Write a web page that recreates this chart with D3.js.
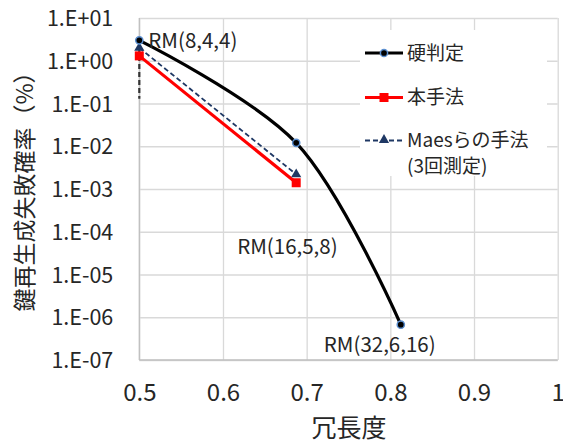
<!DOCTYPE html>
<html>
<head>
<meta charset="utf-8">
<script src="https://cdn.jsdelivr.net/npm/d3@7/dist/d3.min.js"></script>
<style>
  html, body { margin: 0; padding: 0; background: #fff; }
  svg { display: block; font-family: "Noto Sans CJK JP", "Noto Sans", sans-serif; }
</style>
</head>
<body>
<svg id="chart" width="563" height="440"></svg>
<script>
// Redundancy (code rate) of each Reed-Muller code
const redundancy = [0.5, 0.6875, 0.8125];
const codeNames = ["RM(8,4,4)", "RM(16,5,8)", "RM(32,6,16)"];

// Key regeneration failure probability (%)
const hardDecision = [3.0, 1.2e-2, 6.7e-7];     // 硬判定
const proposed = [1.3, 1.4e-3];                 // 本手法
const maes = [2.0, 2.2e-3];                     // Maesらの手法 (3回測定)
const maesLow = [0.13, null];                   // lower error bar of Maes

const xTicks = [0.5, 0.6, 0.7, 0.8, 0.9, 1.0];
const yTicks = [1e1, 1e0, 1e-1, 1e-2, 1e-3, 1e-4, 1e-5, 1e-6, 1e-7];

const svg = d3.select("#chart");
const textColor = "#262626";

const x = d3.scaleLinear().domain([0.5, 1.0]).range([139.3, 557.7]);
const y = d3.scaleLog().domain([1e-7, 1e1]).range([360, 18]);

// gridlines
const grid = svg.append("g");
grid.append("g")
  .attr("transform", `translate(0,${y.range()[0]})`)
  .call(d3.axisBottom(x).tickValues(xTicks).tickSize(-(y.range()[0] - y.range()[1])).tickFormat(""))
  .call(g => g.select(".domain").remove())
  .call(g => g.selectAll("line").attr("stroke", "#d9d9d9").attr("stroke-width", 1.3));
grid.append("g")
  .attr("transform", `translate(${x.range()[0]},0)`)
  .call(d3.axisLeft(y).tickValues(yTicks).tickSize(-(x.range()[1] - x.range()[0])).tickFormat(""))
  .call(g => g.select(".domain").remove())
  .call(g => g.selectAll("line").attr("stroke", "#d9d9d9").attr("stroke-width", 1.3));

// axis lines
svg.append("line")
  .attr("x1", x.range()[0]).attr("x2", x.range()[1])
  .attr("y1", y.range()[0]).attr("y2", y.range()[0])
  .attr("stroke", "#bfbfbf").attr("stroke-width", 1.3);
svg.append("line")
  .attr("x1", x.range()[0]).attr("x2", x.range()[0])
  .attr("y1", y.range()[0]).attr("y2", y.range()[1])
  .attr("stroke", "#bfbfbf").attr("stroke-width", 1.3);

// tick labels
const fmtExp = d => {
  const e = Math.round(Math.log10(d));
  return "1.E" + (e < 0 ? "-" : "+") + String(Math.abs(e)).padStart(2, "0");
};
svg.append("g")
  .attr("transform", `translate(${x.range()[0]},0)`)
  .call(d3.axisLeft(y).tickValues(yTicks).tickSize(0).tickPadding(26).tickFormat(fmtExp))
  .call(g => g.select(".domain").remove())
  .call(g => g.selectAll("text")
    .attr("font-family", "'Noto Sans CJK JP', sans-serif")
    .attr("font-size", 21.5).attr("fill", textColor).attr("dy", "0.35em"));

svg.append("g")
  .attr("transform", `translate(0,${y.range()[0]})`)
  .call(d3.axisBottom(x).tickValues(xTicks).tickSize(0).tickFormat(d => d === 1 ? "1" : d.toFixed(1)))
  .call(g => g.select(".domain").remove())
  .call(g => g.selectAll("text")
    .attr("font-family", "'Noto Sans CJK JP', sans-serif")
    .attr("font-size", 24).attr("fill", textColor)
    .attr("y", 33).attr("dy", "0.35em"));

// axis titles
svg.append("text")
  .attr("x", 349).attr("y", 428).attr("dy", "0.35em")
  .attr("text-anchor", "middle")
  .attr("font-size", 25).attr("fill", textColor)
  .text("冗長度");
svg.append("text")
  .attr("transform", "translate(25,186) rotate(-90)")
  .attr("dy", "0.35em")
  .attr("text-anchor", "middle")
  .attr("font-size", 23).attr("fill", textColor)
  .text("鍵再生成失敗確率（%）");

// Maes error bar
const errG = svg.append("g");
maes.forEach((v, i) => {
  if (maesLow[i] == null) return;
  errG.append("line")
    .attr("x1", x(redundancy[i])).attr("x2", x(redundancy[i]))
    .attr("y1", y(v)).attr("y2", y(maesLow[i]))
    .attr("stroke", "#333").attr("stroke-width", 2.2)
    .attr("stroke-dasharray", "5,3");
});

// series lines
const navy = "#1f3864";
const pts = vals => vals.map((v, i) => [redundancy[i], v]);
svg.append("path")
  .datum(pts(maes))
  .attr("d", d3.line().x(d => x(d[0])).y(d => y(d[1])))
  .attr("fill", "none").attr("stroke", navy).attr("stroke-width", 1.8)
  .attr("stroke-dasharray", "5,3");
svg.append("path")
  .datum(pts(proposed))
  .attr("d", d3.line().x(d => x(d[0])).y(d => y(d[1])))
  .attr("fill", "none").attr("stroke", "#ff0000").attr("stroke-width", 3.2);
svg.append("path")
  .datum(pts(hardDecision))
  .attr("d", d3.line().x(d => x(d[0])).y(d => y(d[1])).curve(d3.curveCatmullRom.alpha(0.5)))
  .attr("fill", "none").attr("stroke", "#000").attr("stroke-width", 3.2);

// markers
const tri = d3.symbol().type(d3.symbolTriangle).size(45);
svg.append("g").selectAll("path")
  .data(pts(maes)).join("path")
  .attr("transform", d => `translate(${x(d[0])},${y(d[1])})`)
  .attr("d", tri).attr("fill", navy);
svg.append("g").selectAll("rect")
  .data(pts(proposed)).join("rect")
  .attr("x", d => x(d[0]) - 4.5).attr("y", d => y(d[1]) - 4.5)
  .attr("width", 9).attr("height", 9).attr("fill", "#ff0000");
svg.append("g").selectAll("circle")
  .data(pts(hardDecision)).join("circle")
  .attr("cx", d => x(d[0])).attr("cy", d => y(d[1]))
  .attr("r", 3.6).attr("fill", "#000").attr("stroke", "#5b8fd0").attr("stroke-width", 1.5);

// data labels for the hard-decision points
const labelOffsets = [[9, 0], [-59, 104], [-77, 20]];
svg.append("g").selectAll("text")
  .data(hardDecision).join("text")
  .attr("x", (d, i) => x(redundancy[i]) + labelOffsets[i][0])
  .attr("y", (d, i) => y(d) + labelOffsets[i][1])
  .attr("dy", "0.35em")
  .attr("font-size", 20.5).attr("fill", textColor)
  .text((d, i) => codeNames[i]);

// legend
const legend = svg.append("g");
legend.append("rect")
  .attr("x", 360).attr("y", 30).attr("width", 187).attr("height", 146).attr("fill", "#fff");
const lx0 = 365, lx1 = 403, lxm = 384, tx = 407;
// 硬判定
legend.append("line").attr("x1", lx0).attr("x2", lx1).attr("y1", 53).attr("y2", 53)
  .attr("stroke", "#000").attr("stroke-width", 3.2);
legend.append("circle").attr("cx", lxm).attr("cy", 53).attr("r", 3.6)
  .attr("fill", "#000").attr("stroke", "#5b8fd0").attr("stroke-width", 1.5);
legend.append("text").attr("x", tx).attr("y", 53).attr("dy", "0.35em")
  .attr("font-size", 19).attr("fill", textColor).text("硬判定");
// 本手法
legend.append("line").attr("x1", lx0).attr("x2", lx1).attr("y1", 97.5).attr("y2", 97.5)
  .attr("stroke", "#ff0000").attr("stroke-width", 3.2);
legend.append("rect").attr("x", lxm - 4.5).attr("y", 93).attr("width", 9).attr("height", 9)
  .attr("fill", "#ff0000");
legend.append("text").attr("x", tx).attr("y", 97.5).attr("dy", "0.35em")
  .attr("font-size", 19).attr("fill", textColor).text("本手法");
// Maes
legend.append("line").attr("x1", lx0).attr("x2", lx1).attr("y1", 140.5).attr("y2", 140.5)
  .attr("stroke", navy).attr("stroke-width", 1.8).attr("stroke-dasharray", "5,3");
legend.append("path").attr("transform", `translate(${lxm},140)`).attr("d", tri).attr("fill", navy);
legend.append("text").attr("x", tx).attr("y", 140.5).attr("dy", "0.35em")
  .attr("font-size", 19).attr("fill", textColor).text("Maesらの手法");
legend.append("text").attr("x", tx).attr("y", 166.5).attr("dy", "0.35em")
  .attr("font-size", 19).attr("fill", textColor).text("(3回測定)");
</script>
</body>
</html>
